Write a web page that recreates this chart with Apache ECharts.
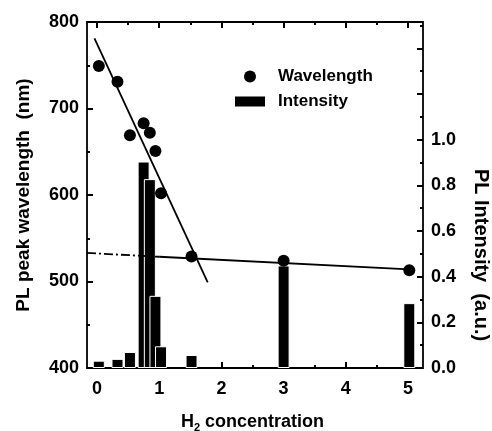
<!DOCTYPE html>
<html>
<head>
<meta charset="utf-8">
<script src="https://cdn.jsdelivr.net/npm/echarts@6/dist/echarts.min.js"></script>
<style>
  html, body { margin: 0; padding: 0; background: #fff; }
  #chart { width: 492px; height: 431px; }
</style>
</head>
<body>
<div id="chart"></div>
<script>
// H2 concentration of each sample
const concentration = [0.03, 0.33, 0.53, 0.75, 0.85, 0.94, 1.03, 1.52, 3.0, 5.02]
// PL peak wavelength (nm), left axis
const wavelength = [749, 731, 669, 683, 672, 651, 602, 529, 524, 513]
// PL intensity (a.u.), right axis
const intensity = [0.032, 0.04, 0.07, 0.904, 0.827, 0.316, 0.095, 0.057, 0.449, 0.284]
// guide lines: [x, y] end points
const steepFit = [[-0.04, 781], [1.78, 499]]
const flatFitDash = [[-0.16, 533], [1.0, 528.6]]
const flatFitSolid = [[1.0, 528.6], [5.02, 514]]
// tick labels
const xTicks = ['0', '1', '2', '3', '4', '5']
const rightTicks = ['0.0', '0.2', '0.4', '0.6', '0.8', '1.0']

const font = 'Liberation Sans, Arial, sans-serif'
const ink = '#000'

// plot box in px and x range of the frame
const box = { left: 87, top: 22, width: 336, height: 346 }
const xMin = -0.16
const xMax = 5.24
const pxPerX = box.width / (xMax - xMin)

const tickStyle = { color: ink, width: 2 }
const noLine = { show: false, onZero: false }

const dom = echarts.init(document.getElementById('chart'))

const option = {
  animation: false,
  backgroundColor: '#fff',
  textStyle: { fontFamily: font, color: ink },
  grid: [
    {
      left: box.left, top: box.top, width: box.width, height: box.height,
      outerBoundsMode: 'none',
      show: true, borderColor: ink, borderWidth: 1.8, backgroundColor: 'transparent'
    },
    {
      // helper grid from x=0 to x=5, only carries the x ticks and labels
      left: box.left - xMin * pxPerX, top: box.top, width: 5 * pxPerX, height: box.height,
      outerBoundsMode: 'none'
    }
  ],
  legend: {
    orient: 'vertical',
    left: 228, top: 63,
    itemWidth: 32, itemHeight: 12,
    itemGap: 8,
    textStyle: { fontFamily: font, fontSize: 17, fontWeight: 'bold', color: ink, padding: [0, 0, 0, 7] },
    data: [
      { name: 'Wavelength', icon: 'circle' },
      { name: 'Intensity', icon: 'rect' }
    ]
  },
  graphic: [
    {
      type: 'text', x: 481, y: 255, rotation: -Math.PI / 2,
      style: {
        text: 'PL Intensity  (a.u.)', fill: ink,
        font: 'bold 20px ' + font, align: 'center', verticalAlign: 'middle'
      }
    }
  ],
  xAxis: [
    {
      type: 'value', gridIndex: 0, min: xMin, max: xMax, show: false, axisLine: noLine
    },
    {
      type: 'value', gridIndex: 1, min: 0, max: 5, interval: 1,
      name: '{a|H}{s|2}{a| concentration}',
      nameLocation: 'middle', nameGap: 44,
      nameTextStyle: {
        rich: {
          a: { fontFamily: font, fontSize: 18, fontWeight: 'bold', color: ink },
          s: { fontFamily: font, fontSize: 11, fontWeight: 'bold', color: ink, padding: [10, 0, 0, 0] }
        }
      },
      axisLine: noLine,
      axisTick: { inside: true, length: 6, lineStyle: tickStyle },
      minorTick: { show: true, splitNumber: 2, length: 3, lineStyle: tickStyle },
      splitLine: { show: false },
      axisLabel: {
        fontSize: 18, fontWeight: 'bold', color: ink, margin: 12,
        formatter: v => xTicks[Math.round(v)]
      }
    },
    {
      type: 'value', gridIndex: 1, position: 'top', min: 0, max: 5, interval: 1,
      axisLine: noLine,
      axisTick: { inside: true, length: 6, lineStyle: tickStyle },
      minorTick: { show: true, splitNumber: 2, length: 3, lineStyle: tickStyle },
      splitLine: { show: false },
      axisLabel: { show: false }
    }
  ],
  yAxis: [
    {
      type: 'value', gridIndex: 0, min: 400, max: 800, interval: 100, position: 'left',
      name: 'PL peak wavelength  (nm)',
      nameLocation: 'middle', nameGap: 54, nameRotate: 90,
      nameTextStyle: { fontFamily: font, fontSize: 19, fontWeight: 'bold', color: ink },
      axisLine: noLine,
      axisTick: { inside: true, length: 6, lineStyle: tickStyle },
      minorTick: { show: true, splitNumber: 2, length: 3, lineStyle: tickStyle },
      splitLine: { show: false },
      axisLabel: { fontSize: 18, fontWeight: 'bold', color: ink, margin: 8 }
    },
    {
      type: 'value', gridIndex: 0, min: 0, max: 1.515, interval: 0.2, position: 'right',
      axisLine: noLine,
      axisTick: { inside: true, length: 6, lineStyle: tickStyle },
      minorTick: { show: true, splitNumber: 2, length: 3, lineStyle: tickStyle },
      splitLine: { show: false },
      axisLabel: {
        fontSize: 18, fontWeight: 'bold', color: ink, margin: 8,
        formatter: v => (rightTicks[Math.round(v * 5)] || '')
      }
    },
    {
      type: 'value', gridIndex: 1, show: false, axisLine: noLine
    }
  ],
  series: [
    {
      name: 'Intensity', type: 'bar', xAxisIndex: 0, yAxisIndex: 1,
      barWidth: 12,
      itemStyle: { color: ink, borderColor: '#fff', borderWidth: 1 },
      data: concentration.map((x, i) => [x, intensity[i]]),
      z: 2
    },
    {
      name: 'steep', type: 'line', xAxisIndex: 0, yAxisIndex: 0, data: steepFit, symbol: 'none',
      lineStyle: { color: ink, width: 1.8 }, z: 3
    },
    {
      name: 'flatDash', type: 'line', xAxisIndex: 0, yAxisIndex: 0, data: flatFitDash, symbol: 'none',
      lineStyle: { color: ink, width: 1.8, type: [9, 3, 2, 3] }, z: 3
    },
    {
      name: 'flatSolid', type: 'line', xAxisIndex: 0, yAxisIndex: 0, data: flatFitSolid, symbol: 'none',
      lineStyle: { color: ink, width: 1.8 }, z: 3
    },
    {
      name: 'Wavelength', type: 'scatter', xAxisIndex: 0, yAxisIndex: 0,
      symbol: 'circle', symbolSize: 12,
      itemStyle: { color: ink, opacity: 1 },
      data: concentration.map((x, i) => [x, wavelength[i]]),
      z: 4
    }
  ]
}

dom.setOption(option)
window.addEventListener('resize', () => dom.resize())
</script>
</body>
</html>
